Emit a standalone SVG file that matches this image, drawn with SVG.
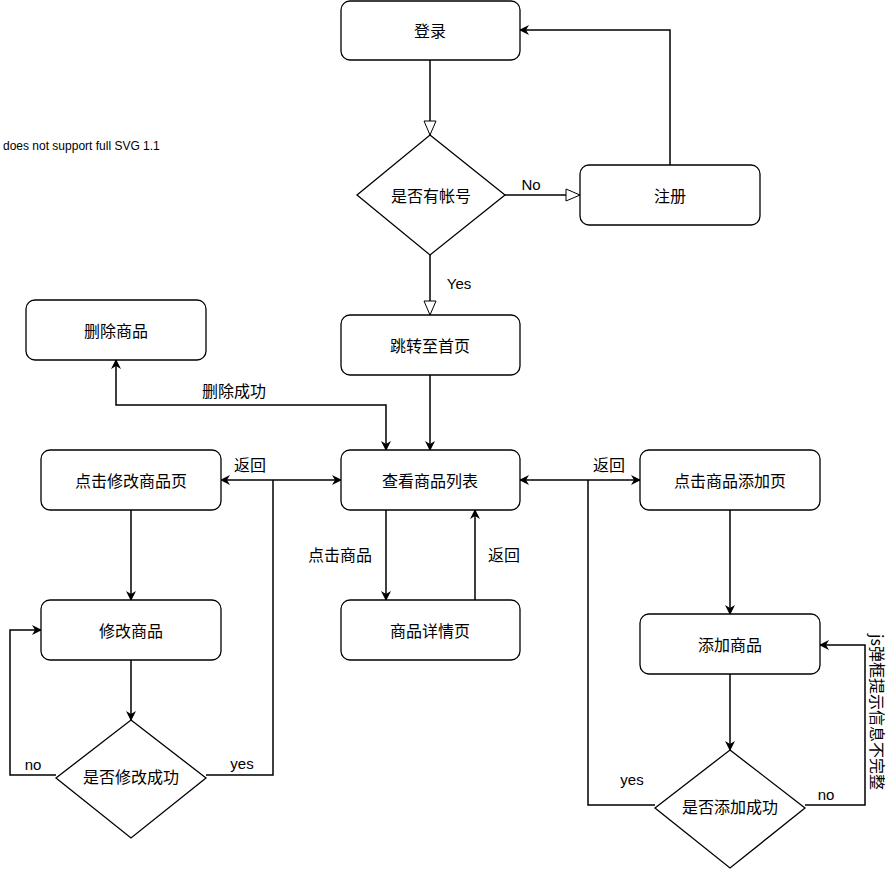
<svg xmlns="http://www.w3.org/2000/svg" width="896" height="870" viewBox="0 0 896 870">
<defs>
<marker id="a" markerWidth="10" markerHeight="10" refX="9" refY="5" orient="auto-start-reverse" markerUnits="userSpaceOnUse"><path d="M0,0 L10,5 L0,10 L3,5 Z" fill="#000"/></marker>
<marker id="h" markerWidth="16" markerHeight="14" refX="15" refY="7" orient="auto" markerUnits="userSpaceOnUse"><path d="M1,1 L15,7 L1,13 Z" fill="#fff" stroke="#000"/></marker>
</defs>
<style>
.n{fill:#fff;stroke:#000;stroke-width:1.3}
text{font-family:"Noto Sans CJK SC","Liberation Sans",sans-serif;font-size:16px;fill:#000}
.c{text-anchor:middle;dominant-baseline:central}
.e{fill:none;stroke:#000;stroke-width:1.5}
</style>
<rect width="896" height="870" fill="#fff"/>
<text x="3" y="150" style="font-family:'Liberation Sans',sans-serif;font-size:12px">does not support full SVG 1.1</text>
<g id="connectors">
<path class="e" d="M430,60V135" marker-end="url(#h)"/>
<path class="e" d="M505,195H580" marker-end="url(#h)"/>
<path class="e" d="M430,255V315" marker-end="url(#h)"/>
<path class="e" d="M670,165V30H520" marker-end="url(#a)"/>
<path class="e" d="M430,375V450" marker-end="url(#a)"/>
<path class="e" d="M116,360V405H386V450" marker-start="url(#a)" marker-end="url(#a)"/>
<path class="e" d="M221,480H341" marker-start="url(#a)" marker-end="url(#a)"/>
<path class="e" d="M206,775H273V480"/>
<path class="e" d="M131,510V600" marker-end="url(#a)"/>
<path class="e" d="M131,660V720" marker-end="url(#a)"/>
<path class="e" d="M56,775H10V630H41" marker-end="url(#a)"/>
<path class="e" d="M386,510V600" marker-end="url(#a)"/>
<path class="e" d="M475,600V510" marker-end="url(#a)"/>
<path class="e" d="M520,480H640" marker-start="url(#a)" marker-end="url(#a)"/>
<path class="e" d="M655,805H588V480"/>
<path class="e" d="M730,510V614" marker-end="url(#a)"/>
<path class="e" d="M730,674V750" marker-end="url(#a)"/>
<path class="e" d="M805,805H865V645H820" marker-end="url(#a)"/>
<text x="531" y="184" class="c" style="font-family:'Liberation Sans',sans-serif;font-size:15px">No</text>
<text x="459" y="283" class="c" style="font-family:'Liberation Sans',sans-serif;font-size:15px">Yes</text>
<text x="234" y="390" class="c">删除成功</text>
<text x="250" y="464" class="c">返回</text>
<text x="609" y="464" class="c">返回</text>
<text x="340" y="554" class="c">点击商品</text>
<text x="504" y="554" class="c">返回</text>
<text x="33" y="764" class="c" style="font-family:'Liberation Sans',sans-serif;font-size:15px">no</text>
<text x="242" y="763" class="c" style="font-family:'Liberation Sans',sans-serif;font-size:15px">yes</text>
<text x="632" y="779" class="c" style="font-family:'Liberation Sans',sans-serif;font-size:15px">yes</text>
<text x="826" y="794" class="c" style="font-family:'Liberation Sans',sans-serif;font-size:15px">no</text>
<text x="0" y="0" class="c" transform="translate(878,712) rotate(90)">js弹框提示信息不完整</text>
</g>
<g id="login"><rect class="n" x="341" y="1" width="179" height="59" rx="9"/><text x="430" y="30" class="c">登录</text></g>
<g id="hasAccount"><path class="n" d="M430,135L505,195L430,255L357,195Z"/><text x="431" y="195" class="c">是否有帐号</text></g>
<g id="register"><rect class="n" x="580" y="165" width="180" height="60" rx="9"/><text x="670" y="195" class="c">注册</text></g>
<g id="home"><rect class="n" x="341" y="315" width="179" height="60" rx="9"/><text x="430" y="345" class="c">跳转至首页</text></g>
<g id="delete"><rect class="n" x="26" y="300" width="180" height="60" rx="9"/><text x="116" y="330" class="c">删除商品</text></g>
<g id="list"><rect class="n" x="341" y="450" width="179" height="60" rx="9"/><text x="430" y="480" class="c">查看商品列表</text></g>
<g id="editPage"><rect class="n" x="41" y="450" width="180" height="60" rx="9"/><text x="131" y="480" class="c">点击修改商品页</text></g>
<g id="edit"><rect class="n" x="41" y="600" width="180" height="60" rx="9"/><text x="131" y="630" class="c">修改商品</text></g>
<g id="editOk"><path class="n" d="M131,720L206,778L131,838L56,778Z"/><text x="131" y="776" class="c">是否修改成功</text></g>
<g id="detail"><rect class="n" x="341" y="600" width="179" height="60" rx="9"/><text x="430" y="630" class="c">商品详情页</text></g>
<g id="addPage"><rect class="n" x="640" y="450" width="180" height="60" rx="9"/><text x="730" y="480" class="c">点击商品添加页</text></g>
<g id="add"><rect class="n" x="640" y="614" width="180" height="60" rx="9"/><text x="730" y="644" class="c">添加商品</text></g>
<g id="addOk"><path class="n" d="M730,750L805,808L730,868L655,808Z"/><text x="730" y="806" class="c">是否添加成功</text></g>
</svg>
